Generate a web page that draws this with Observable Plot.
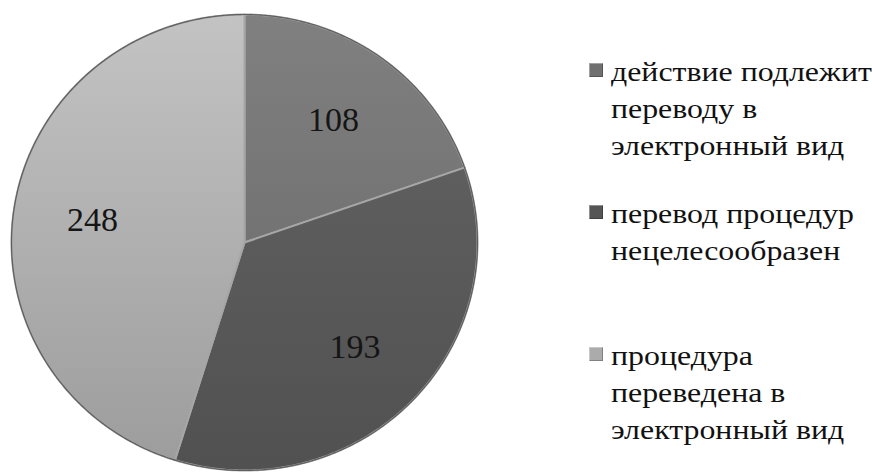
<!DOCTYPE html>
<html>
<head>
<meta charset="utf-8">
<script src="https://cdn.jsdelivr.net/npm/d3@7"></script>
<script src="https://cdn.jsdelivr.net/npm/@observablehq/plot@0.6"></script>
<style>
  .entry { display: flex; align-items: flex-start; height: 142px; }
  .sw { width: 14px; height: 14px; margin-top: 9px; margin-right: 8px; flex: none; box-shadow: inset 1px 1px 0 rgba(255,255,255,0.35), inset -1px -1px 0 rgba(0,0,0,0.25); }
  .txt { line-height: 37px; font-family: 'Liberation Serif'; font-size: 27px; transform: scaleX(1.18); transform-origin: 0 0; white-space: nowrap; }
</style>
</head>
<body style="margin:0;background:#fff;font-family:'Liberation Serif'">
<div id="wrap" style="position:relative;width:872px;height:472px;overflow:hidden;font-family:'Liberation Serif'">
  <div id="chart" style="position:absolute;left:0;top:0"></div>
  <div id="legend" style="position:absolute;left:589px;top:54px;font-family:'Liberation Serif';font-size:27px;color:#111">
    <div class="entry"><div class="sw" style="background:#707070"></div><div class="txt">действие подлежит<br>переводу в<br>электронный вид</div></div>
    <div class="entry"><div class="sw" style="background:#555555"></div><div class="txt">перевод процедур<br>нецелесообразен</div></div>
    <div class="entry"><div class="sw" style="background:#ababab"></div><div class="txt">процедура<br>переведена в<br>электронный вид</div></div>
  </div>
</div>
<script>
// ---- data ----
const categories = [
  "действие подлежит переводу в электронный вид",
  "перевод процедур нецелесообразен",
  "процедура переведена в электронный вид"
];
const values = [108, 193, 248];
const labels = ["108", "193", "248"];

// ---- styles ----
const sliceFills = ["url(#g0)", "url(#g1)", "url(#g2)"];

// ---- build slices from the data ----
const total = d3.sum(values);
let cum = 0;
const slicePts = [];
const labelPts = [];
values.forEach((v, i) => {
  const a0 = cum / total * 2 * Math.PI;
  cum += v;
  const a1 = cum / total * 2 * Math.PI;
  slicePts.push({cat: i, name: categories[i], x: 0, y: 0});
  const n = Math.max(4, Math.ceil((a1 - a0) / 0.01));
  for (let k = 0; k <= n; k++) {
    const a = a0 + (a1 - a0) * k / n;
    slicePts.push({cat: i, name: categories[i], x: Math.sin(a), y: Math.cos(a)});
  }
  const am = (a0 + a1) / 2;
  labelPts.push({label: labels[i], x: 0.66 * Math.sin(am), y: 0.66 * Math.cos(am)});
});

const W = 872, H = 472;
const cx = 244, cy = 242, rx = 233, ry = 228;

const plot = Plot.plot({
  width: W, height: H,
  margin: 0,
  style: {fontFamily: "Liberation Serif"},
  x: {domain: [-cx / rx, (W - cx) / rx], range: [0, W], axis: null},
  y: {domain: [-(H - cy) / ry, cy / ry], range: [H, 0], axis: null},
  marks: [
    Plot.line(slicePts, {
      x: "x", y: "y", z: "cat",
      curve: "linear-closed",
      fill: d => sliceFills[d.cat],
      stroke: "#a6a6a6", strokeWidth: 2, strokeLinejoin: "round"
    }),
    Plot.line(slicePts.filter(d => !(d.x === 0 && d.y === 0)), {
      x: "x", y: "y", z: "cat",
      stroke: "#5f5f5f", strokeWidth: 1.2
    }),
    Plot.text(labelPts, {
      x: "x", y: "y", text: "label",
      fontSize: 34, fontFamily: "Liberation Serif",
      fill: "#151515"
    })
  ]
});

// gradients for the slices
const ns = "http://www.w3.org/2000/svg";
const defs = document.createElementNS(ns, "defs");
const grads = [["#808080", "#737373"], ["#5e5e5e", "#515151"], ["#c3c3c3", "#9d9d9d"]];
grads.forEach((g, i) => {
  const lg = document.createElementNS(ns, "linearGradient");
  lg.setAttribute("id", "g" + i);
  lg.setAttribute("x1", "0"); lg.setAttribute("y1", "0");
  lg.setAttribute("x2", "0"); lg.setAttribute("y2", "1");
  [[0, g[0]], [1, g[1]]].forEach(([o, c]) => {
    const s = document.createElementNS(ns, "stop");
    s.setAttribute("offset", o);
    s.setAttribute("stop-color", c);
    lg.appendChild(s);
  });
  defs.appendChild(lg);
});
plot.insertBefore(defs, plot.firstChild);
document.getElementById("chart").appendChild(plot);
</script>
</body>
</html>
